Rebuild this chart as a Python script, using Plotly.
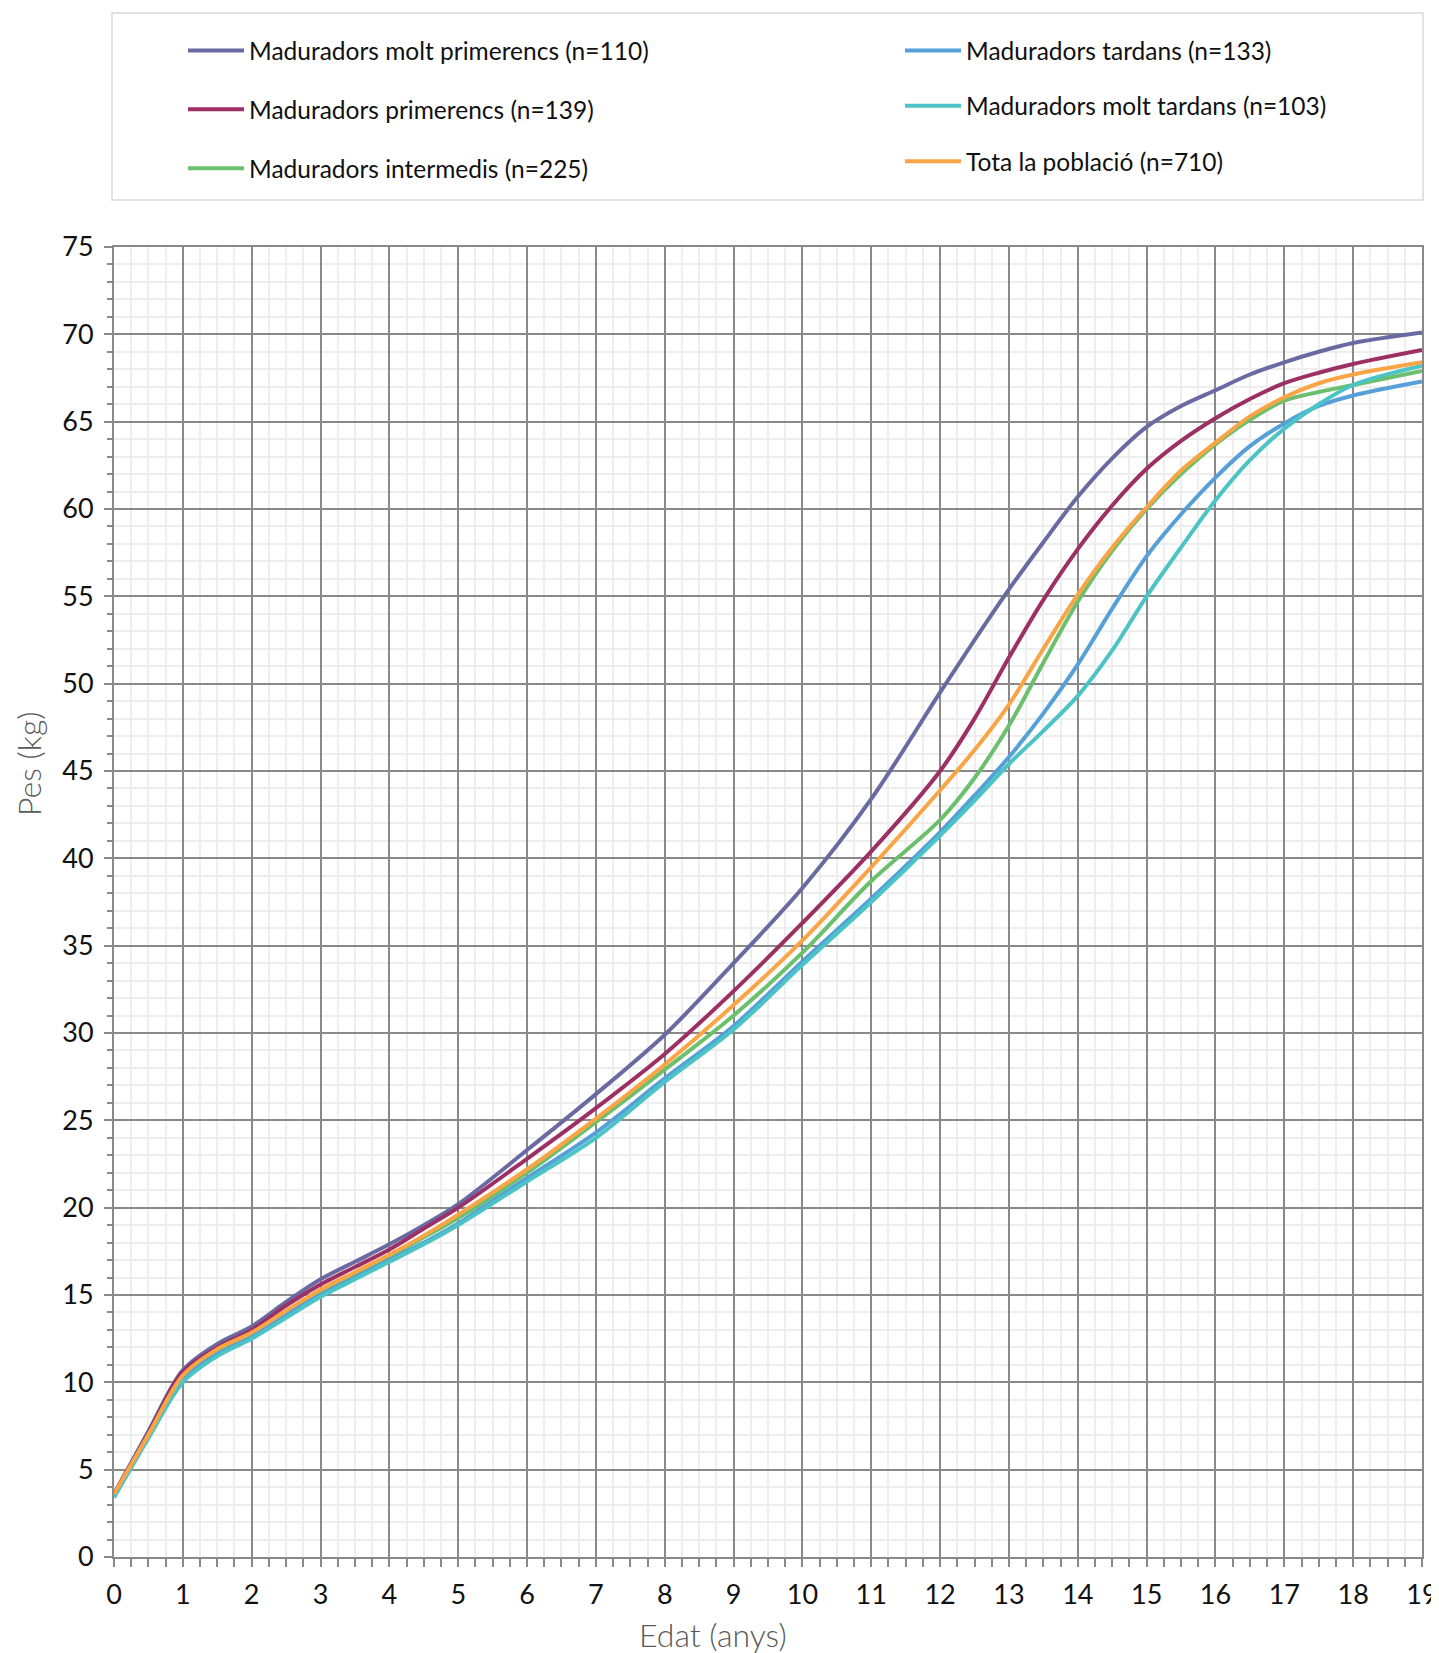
import plotly.graph_objects as go

# Ages (years)
age = [0, 0.5, 1, 1.5, 2, 2.5, 3, 3.5, 4, 4.5, 5, 6, 7, 8, 9, 10, 11, 12, 12.5, 13,
       13.5, 14, 14.5, 15, 15.5, 16, 16.5, 17, 17.5, 18, 19]

# Weights (kg)
molt_primerencs = [3.6, 7.2, 10.7, 12.2, 13.2, 14.6, 15.9, 16.9, 17.9, 19.0, 20.2, 23.3, 26.5, 29.9,
                   34.0, 38.3, 43.4, 49.5, 52.5, 55.4, 58.1, 60.7, 62.9, 64.7, 65.9, 66.8, 67.7,
                   68.4, 69.0, 69.5, 70.1]
primerencs = [3.6, 7.1, 10.6, 12.0, 13.0, 14.4, 15.6, 16.6, 17.6, 18.8, 20.0, 22.8, 25.7, 28.8,
              32.4, 36.3, 40.4, 45.0, 48.0, 51.5, 54.8, 57.7, 60.2, 62.3, 63.9, 65.2, 66.3,
              67.2, 67.8, 68.3, 69.1]
intermedis = [3.5, 7.0, 10.3, 11.8, 12.7, 14.0, 15.2, 16.2, 17.2, 18.3, 19.4, 22.0, 24.9, 27.9,
              31.0, 34.6, 38.7, 42.2, 44.6, 47.6, 51.2, 54.7, 57.6, 60.0, 62.0, 63.7, 65.1,
              66.2, 66.7, 67.1, 67.9]
tardans = [3.5, 6.9, 10.2, 11.6, 12.6, 13.9, 15.0, 16.0, 17.0, 18.0, 19.1, 21.7, 24.3, 27.4,
           30.4, 34.1, 37.7, 41.5, 43.6, 45.8, 48.3, 51.1, 54.3, 57.3, 59.7, 61.8, 63.6,
           64.9, 65.9, 66.5, 67.3]
molt_tardans = [3.4, 6.8, 10.0, 11.5, 12.5, 13.7, 14.9, 15.9, 16.9, 17.9, 19.0, 21.5, 24.0, 27.2,
                30.2, 33.9, 37.5, 41.3, 43.3, 45.4, 47.3, 49.3, 51.9, 55.0, 57.8, 60.5, 62.8,
                64.6, 66.0, 67.1, 68.2]
total = [3.6, 7.0, 10.4, 11.9, 12.85, 14.1, 15.3, 16.3, 17.3, 18.4, 19.6, 22.2, 25.1, 28.2,
         31.6, 35.3, 39.5, 43.9, 46.2, 48.8, 52.0, 55.1, 57.8, 60.1, 62.2, 63.8, 65.3,
         66.4, 67.2, 67.7, 68.4]

names = ["Maduradors molt primerencs (n=110)", "Maduradors primerencs (n=139)",
         "Maduradors intermedis (n=225)", "Maduradors tardans (n=133)",
         "Maduradors molt tardans (n=103)", "Tota la població (n=710)"]
series = [molt_primerencs, primerencs, intermedis, tardans, molt_tardans, total]
colors = ["#6A6AA2", "#9C2F63", "#6CBF6C", "#55A0D8", "#4CC4C6", "#F9A546"]
legends = ["legend", "legend", "legend", "legend2", "legend2", "legend2"]

x_ticks = list(range(0, 20))
y_ticks = list(range(0, 80, 5))

fig = go.Figure()
for i, (nm, ys, col, lg) in enumerate(zip(names, series, colors, legends)):
    fig.add_trace(go.Scatter(
        x=age, y=ys, name=nm, mode="lines",
        line=dict(color=col, width=4, shape="spline", smoothing=0.9),
        legend=lg, legendgroup=f"g{i}", hoverinfo="x+y+name"))

# The page body has an 8px margin on the top/left.
OFF = 8
W, H = 1439 - OFF, 1653 - OFF
L, T = 114 - OFF, 247 - OFF
R = W - (1422 - OFF)
B = H - (1557 - OFF)
pw, ph = W - L - R, H - T - B

def px_x(p):
    # page pixel -> paper x
    return (p - OFF - L) / pw

def px_y(p):
    # page pixel -> paper y
    return (H - B - (p - OFF)) / ph

font_main = "Lato, 'Open Sans', sans-serif"
legend_font = dict(family=font_main, size=24.5, color="#111111")
title_font = dict(family=font_main, size=32, color="#595959", weight=300)
ITEMW = 56

fig.update_layout(
    width=W, height=H,
    margin=dict(l=L, r=R, t=T, b=B, autoexpand=False),
    paper_bgcolor="white", plot_bgcolor="white",
    font=dict(family=font_main, size=24, color="#111111"),
    showlegend=True,
    legend=dict(x=px_x(249 - ITEMW - 10), y=px_y(28), xanchor="left", yanchor="top",
                orientation="v", font=legend_font, bgcolor="rgba(0,0,0,0)",
                borderwidth=0, tracegroupgap=24, itemwidth=ITEMW, traceorder="grouped"),
    legend2=dict(x=px_x(966 - ITEMW - 10), y=px_y(28), xanchor="left", yanchor="top",
                 orientation="v", font=legend_font, bgcolor="rgba(0,0,0,0)",
                 borderwidth=0, tracegroupgap=20.5, itemwidth=ITEMW, traceorder="grouped"),
    shapes=[dict(type="rect", xref="paper", yref="paper",
                 x0=px_x(112), x1=px_x(1423), y0=px_y(200), y1=px_y(13),
                 line=dict(color="#D9D9D9", width=1.5), fillcolor="rgba(0,0,0,0)",
                 layer="below")],
    annotations=[
        dict(text="Pes (kg)", xref="paper", yref="paper", x=px_x(28), y=px_y(764),
             xanchor="center", yanchor="middle", textangle=-90, showarrow=False,
             font=title_font),
        dict(text="Edat (anys)", xref="paper", yref="paper", x=px_x(713), y=px_y(1634),
             xanchor="center", yanchor="middle", showarrow=False, font=title_font),
    ],
)

axis_common = dict(
    showline=True, mirror=True, linecolor="#898989", linewidth=2,
    showgrid=True, gridcolor="#898989", gridwidth=2,
    zeroline=False, ticks="outside", ticklen=8, tickwidth=2, tickcolor="#898989",
    tickfont=dict(family=font_main, size=27, color="#111111"),
    ticklabeloverflow="allow",
)

fig.update_xaxes(
    range=[0, 19], tickmode="array", tickvals=x_ticks,
    ticktext=[str(v) for v in x_ticks],
    ticklabelstandoff=5,
    minor=dict(dtick=0.25, showgrid=True, gridcolor="#EEEEEE", gridwidth=2,
               ticks="outside", ticklen=8, tickwidth=2, tickcolor="#898989"),
    **axis_common)

fig.update_yaxes(
    range=[0, 75], tickmode="array", tickvals=y_ticks,
    ticktext=[str(v) for v in y_ticks],
    ticklabelstandoff=5,
    minor=dict(dtick=1, showgrid=True, gridcolor="#EEEEEE", gridwidth=2,
               ticks="outside", ticklen=5, tickwidth=2, tickcolor="#898989"),
    **axis_common)

fig.write_html("out.html")
